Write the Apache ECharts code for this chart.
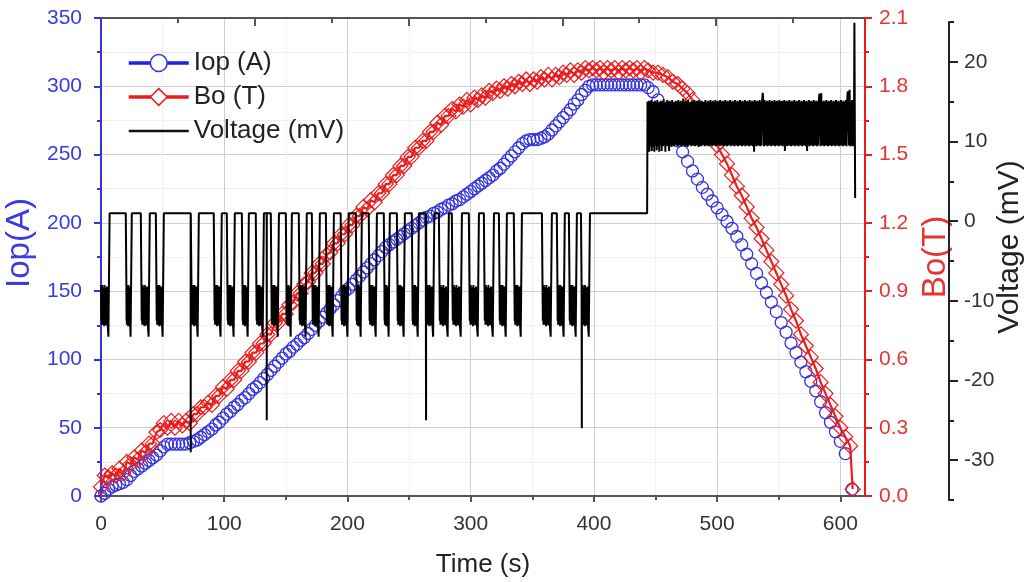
<!DOCTYPE html>
<html>
<head>
<meta charset="utf-8">
<script src="https://cdn.jsdelivr.net/npm/echarts@6/dist/echarts.min.js"></script>
<style>
  html, body { margin: 0; padding: 0; background: #fff; }
  #chart { width: 1030px; height: 582px; }
</style>
</head>
<body>
<div id="chart"></div>
<script>
// ---------------- DATA ----------------
// Iop (A) during ramp-up, sampled every 3 s from t = 0 s
const iopRiseStart = 0, iopRiseStep = 3;
const iopRise = [
  0,2,5,7,8,9,10,12,15,18,20,22,24,26,28,30,33,36,38,
  38,38,38,38,38,39,
  40,41,43,45,47,49,52,54,57,60,62,65,67,70,72,75,78,80,83,86,89,92,95,98,101,104,106,109,111,114,116,119,122,125,128,131,134,137,140,143,146,150,
  152,155,158,161,164,167,170,173,176,179,182,184,186,188,190,192,194,196,198,200,
  202,204,205,207,208,210,211,213,214,216,217,219,221,223,225,227,229,231,233,235,238,240,243,246,249,252,255,258,260,
  261,261,261,262,263,265,268,271,274,277,280,283,287,290,294,297,300,
  301,301,301,301,301,301,301,301,301,301,301,301,301,301,301,299
];
// Iop (A) during ramp-down: [time s, current A]
const iopFall = [
  [448,296],[452,290],[456,283],[460,275],[464,268],[468,260],[472,252],[476,245],[480,238],[484,232],
  [488,226],[492,221],[496,216],[500,211],[504,206],[508,201],[512,196],[516,190],[520,184],[524,177],
  [528,170],[532,163],[536,156],[540,149],[544,142],[548,135],[552,127],[556,120],[560,112],[564,105],
  [568,98],[572,91],[576,84],[580,77],[584,69],[588,61],[592,54],[596,47],[600,40],[604,31],[609.5,5]
];
// Bo (T) during ramp-up, sampled every 3 s from t = 0 s
const boRiseStart = 0, boRiseStep = 3;
const boRise = [
  0.04,0.09,0.08,0.10,0.09,0.12,0.10,0.15,0.14,0.17,0.16,0.20,0.19,0.23,0.23,0.28,0.29,0.32,0.30,
  0.33,0.30,0.33,0.31,0.33,0.32,
  0.36,0.36,0.39,0.39,0.41,0.40,0.44,0.44,0.48,0.47,0.51,0.51,0.55,0.55,0.59,0.59,0.63,0.63,0.67,0.67,0.71,0.71,0.76,0.76,0.80,0.80,0.84,0.85,0.89,0.89,0.93,0.94,0.98,0.98,1.02,1.02,1.06,1.07,1.11,1.11,1.15,1.15,
  1.19,1.19,1.23,1.23,1.27,1.26,1.30,1.29,1.33,1.33,1.37,1.37,1.41,1.41,1.45,1.45,1.49,1.49,1.53,1.53,
  1.56,1.56,1.60,1.60,1.64,1.63,1.67,1.67,1.70,1.69,1.72,1.71,1.74,1.72,1.75,1.74,1.76,1.75,1.78,1.77,1.79,1.78,1.80,1.79,1.81,1.80,1.82,1.81,1.83,
  1.81,1.83,1.82,1.84,1.83,1.85,1.83,1.85,1.84,1.86,1.85,1.87,1.85,1.87,1.86,1.88,1.87,
  1.88,1.87,1.88,1.86,1.88,1.87,1.88,1.86,1.88,1.87,1.88,1.87,1.88,1.86,1.88,1.87
];
// Bo (T) during ramp-down: [time s, field T]
const boFall = [
  [448,1.86],[452,1.86],[456,1.85],[460,1.84],[464,1.82],[468,1.81],[472,1.79],[476,1.77],[480,1.74],[484,1.70],
  [488,1.66],[492,1.62],[496,1.58],[500,1.54],[504,1.50],[508,1.46],[512,1.41],[516,1.36],[520,1.32],[524,1.27],
  [528,1.22],[532,1.18],[536,1.13],[540,1.08],[544,1.03],[548,0.98],[552,0.93],[556,0.88],[560,0.82],[564,0.77],
  [568,0.71],[572,0.66],[576,0.61],[580,0.56],[584,0.50],[588,0.45],[592,0.40],[596,0.35],[600,0.30],[604,0.26],
  [608,0.22],[610,0.03]
];
// Voltage (mV): low (negative) phases of the square wave, [start s, end s]
const voltLowPhases = [
  [0,6],[20.6,24],[32.8,38.6],[45,50],[73.4,78.4],[92,97],[102.6,107.6],[114.8,119],[126.1,131.2],[138.3,143.4],
  [150.5,153.9],[161,166],[171.6,176.6],[183,188],[195,200],[207.3,210.7],[217.8,222.9],[230,233.4],[240.6,245.6],[252.7,257],
  [264,269.5],[274.7,281.3],[285.2,291.9],[299,305.7],[311.2,317.9],[323.4,328.4],[335.5,340.6],[358.3,364.9],[370.4,375.4],[380.2,385.2],
  [390,395.8]
];
const voltHighLevel = 1.0;   // mV, plateau of the square wave
// mV values inside each low phase (noisy band)
const voltLowNoise = [-8,-12.5,-8.5,-13,-8,-12.8,-9,-13,-8.3,-12.5,-8.6,-13.2,-8,-12.7,-9,-13,-8.4,-12.9,-8.8,-13.1,-8.2,-12.6,-9,-13.3,-13.8,-14.5];
const voltSpikes = [[72.8,-29],[134.5,-25],[263.8,-25],[390.2,-26]]; // [s, mV]
const voltStepTime = 443.2;  // s, step into the noisy band
const voltBandStart = 443.5, voltBandStep = 0.5;
const voltBand = [
  15,9.2,15.1,8.7,15,9.4,15.2,8.8,14.9,9.3,15,8.7,15.1,9.5,15,8.9,15.2,9.4,14.9,8.7,
  15,9.5,15.1,8.8,15,9.4,15.3,9.5,14.9,8.7,15,9.5,15.2,9.4,15,8.8,15.1,9.5,15,9.3,
  15.2,9.5,15,9.4,14.9,9.6,15.1,9.5,15,9.4,15.2,9.5,15,9.6,15.1,9.4,15,9.5,15.4,9.5,
  15,9.4,15.1,9.5,15,9.3,15.2,9.5,14.9,9.6,15,9.4,15.1,9.5,15,9.5,15.2,9.4,15,9.5,
  15.1,9.5,15,9.3,15.2,9.5,15,9.4,15.1,9.5,15,9.6,15,9.4,15.2,9.5,14.9,9.5,15.1,9.4,
  15,9.5,15.2,9.5,15,9.4,15.1,9.5,15,9.5,15.2,9.4,15,9.5,15.1,9.6,15,9.4,15.2,9.5,
  15,9.5,15.1,9.4,15,9.5,15.2,9.5,15,9.4,15.1,9.5,15,9.6,15.2,9.4,15,9.5,15.1,9.5,
  15,9.4,15.2,9.5,15,9.5,15.1,9.4,15,9.5,15.2,9.6,15,9.4,15.1,9.5,15,9.5,15.2,9.4,
  15,9.5,15.1,9.5,15,9.4,15.2,9.5,15,9.5,15.1,9.4,15,8.7,15.2,9.5,15,9.4,15.1,9.5,
  15,9.5,15.2,9.4,15,9.5,15.1,16.1,15,9.4,15.2,9.5,15,9.5,15.1,9.4,15,9.5,15.2,9.5,
  15,9.4,15.1,9.5,15,9.5,15.2,9.4,15,9.5,15.1,9.5,15,9.4,15.2,9.5,15,9.5,15.1,9.4,
  15,9.5,15.2,8.8,15,9.5,15.1,9.4,15,9.5,15.2,9.5,15,9.4,15.1,9.5,15,9.5,15.2,9.4,
  15,9.5,15.1,9.5,15,9.4,15.2,9.5,15,9.5,15.1,9.4,15,9.5,15.2,9.5,15,9.4,15.1,8.8,
  15,9.5,15.2,9.4,15,9.5,15.1,9.5,15,9.4,15.2,9.5,15,9.5,15.1,9.4,15,9.5,15.2,16,
  16,9.4,16.1,9.5,15,9.5,15.1,9.4,15,9.5,15.2,9.5,15,9.4,15.1,9.5,15,9.5,15.2,9.4,
  15,9.5,15.1,9.5,15,9.4,15.2,9.5,15,9.5,15.1,9.4,15,9.5,15.2,9.5,15,9.4,15.1,9.5,
  15,9.5,15.2,9.4,15,16.3,15.1,9.5,16.5,9.4,15,9.5,15.2,9.4,15,9.5
];
const voltTail = [[611.4,24.9],[612,2.9]];

// axis ticks
const timeMajorTicks = [0,100,200,300,400,500,600];
const timeMinorTicks = [50,150,250,350,450,550];
const voltMajorTicks = [-30,-20,-10,0,10,20];
const voltMinorTicks = [-35,-25,-15,-5,5,15,25];

// ---------------- BUILD ----------------
const iopData = iopRise.map((v, i) => [iopRiseStart + i * iopRiseStep, v]).concat(iopFall);
const boData = boRise.map((v, i) => [boRiseStart + i * boRiseStep, v]).concat(boFall);

function buildVoltage() {
  let pts = [];
  voltLowPhases.forEach(([a, b], i) => {
    if (i > 0) pts.push([a - 0.5, voltHighLevel]);
    const n = voltLowNoise.length;
    voltLowNoise.forEach((v, k) => pts.push([a + (b - a) * k / (n - 1), v]));
    pts.push([b + 1.0, voltHighLevel]);
  });
  pts.push([voltStepTime, voltHighLevel]);
  voltBand.forEach((v, k) => pts.push([voltBandStart + k * voltBandStep, v]));
  voltTail.forEach(p => pts.push(p));
  voltSpikes.forEach(([t, v]) => {
    const idx = pts.findIndex(p => p[0] > t);
    const base = pts[idx - 1][1];
    pts.splice(idx, 0, [t - 0.05, base], [t, v], [t + 0.05, base]);
  });
  return pts;
}
const voltData = buildVoltage();

// ---------------- CHART ----------------
const FONT = "'Liberation Sans', Arial, Helvetica, sans-serif";
const BLUE = '#3434dc', BLUE_TXT = '#3b3be0', RED = '#ec1c1c', RED_TXT = '#e43434', AX = '#555';

const chart = echarts.init(document.getElementById('chart'), null, { renderer: 'canvas' });
chart.setOption({
  animation: false,
  backgroundColor: '#fff',
  textStyle: { fontFamily: FONT },
  grid: [
    { left: 101, right: 165, top: 18, bottom: 86, containLabel: false, outerBoundsMode: 'none' },
    { left: 101, right: 165, top: 22, bottom: 82, containLabel: false, outerBoundsMode: 'none' }
  ],
  legend: {
    orient: 'vertical', left: 122, top: 45, itemWidth: 60, itemHeight: 21, itemGap: 8,
    textStyle: { fontSize: 26, color: '#222', fontFamily: FONT },
    data: [
      { name: 'Iop (A)', itemStyle: { color: '#fff', borderColor: BLUE, borderWidth: 1.5 }, lineStyle: { color: '#1e1ee8', width: 3.5, opacity: 1 } },
      { name: 'Bo (T)', itemStyle: { color: '#fff', borderColor: RED, borderWidth: 1.5 }, lineStyle: { color: RED, width: 3.5, opacity: 1 } },
      { name: 'Voltage (mV)', itemStyle: { opacity: 0 }, lineStyle: { color: '#111', width: 2.5 } }
    ]
  },
  xAxis: [
    { gridIndex: 0, type: 'value', position: 'bottom', min: 0, max: 620, interval: 100,
      axisLine: { show: true, onZero: false, lineStyle: { color: AX, width: 2 } },
      axisTick: { show: true, customValues: timeMajorTicks, length: 6, lineStyle: { color: AX, width: 2 } },
      axisLabel: { customValues: timeMajorTicks, color: '#333', fontSize: 21, margin: 18 },
      splitLine: { show: true, lineStyle: { color: '#cfcfcf', width: 1 } },
      name: 'Time (s)', nameLocation: 'middle', nameGap: 56,
      nameTextStyle: { fontSize: 26, color: '#222' } },
    { gridIndex: 0, type: 'value', position: 'bottom', min: 0, max: 620, interval: 50,
      axisLine: { show: false, onZero: false },
      axisTick: { show: true, customValues: timeMinorTicks, length: 4, lineStyle: { color: AX, width: 2 } },
      axisLabel: { show: false },
      splitLine: { show: true, lineStyle: { color: '#e2e2e2', width: 1, type: 'dotted' } } },
    { gridIndex: 0, type: 'value', position: 'top', min: 0, max: 248.4,
      axisLine: { show: true, onZero: false, lineStyle: { color: AX, width: 2 } },
      axisTick: { show: true, inside: true, customValues: [50,100,150,200], length: 8, lineStyle: { color: AX, width: 2 } },
      axisLabel: { show: false }, splitLine: { show: false } },
    { gridIndex: 0, type: 'value', position: 'top', min: 0, max: 248.4,
      axisLine: { show: false, onZero: false },
      axisTick: { show: true, inside: true, customValues: [25,75,125,175,225], length: 5, lineStyle: { color: AX, width: 2 } },
      axisLabel: { show: false }, splitLine: { show: false } },
    { gridIndex: 1, type: 'value', min: 0, max: 620, show: false, axisLine: { onZero: false } }
  ],
  yAxis: [
    { gridIndex: 0, type: 'value', position: 'left', min: 0, max: 350, interval: 50,
      axisLine: { show: true, onZero: false, lineStyle: { color: BLUE, width: 2 } },
      axisTick: { show: true, length: 7, lineStyle: { color: BLUE, width: 2 } },
      minorTick: { show: true, splitNumber: 2, length: 4, lineStyle: { color: BLUE, width: 2 } },
      axisLabel: { color: BLUE_TXT, fontSize: 21, margin: 19 },
      splitLine: { show: true, lineStyle: { color: '#cfcfcf', width: 1 } },
      minorSplitLine: { show: true, lineStyle: { color: '#e4e4e4', width: 1, type: 'dotted' } },
      name: 'Iop(A)', nameLocation: 'middle', nameGap: 64,
      nameTextStyle: { color: BLUE_TXT, fontSize: 33, padding: [0, 0, 0, 28] } },
    { gridIndex: 0, type: 'value', position: 'right', min: 0, max: 2.1, interval: 0.3,
      axisLine: { show: true, onZero: false, lineStyle: { color: RED, width: 2 } },
      axisTick: { show: true, length: 7, lineStyle: { color: RED, width: 2 } },
      minorTick: { show: true, splitNumber: 2, length: 4, lineStyle: { color: RED, width: 2 } },
      axisLabel: { color: RED_TXT, fontSize: 21, margin: 14, formatter: v => v.toFixed(1) },
      splitLine: { show: false },
      name: 'Bo(T)', nameLocation: 'middle', nameGap: 48,
      nameTextStyle: { color: RED_TXT, fontSize: 33 } },
    { gridIndex: 1, type: 'value', position: 'right', offset: 84, min: -35, max: 25, interval: 5,
      axisLine: { show: true, onZero: false, lineStyle: { color: '#222', width: 2 } },
      axisTick: { show: true, customValues: voltMajorTicks, length: 9, lineStyle: { color: '#222', width: 2 } },
      axisLabel: { customValues: voltMajorTicks, color: '#333', fontSize: 21, margin: 15 },
      splitLine: { show: false },
      name: 'Voltage (mV)', nameLocation: 'middle', nameGap: 46, nameMoveOverlap: false,
      nameTextStyle: { color: '#222', fontSize: 30, padding: [0, 0, 0, 28] } },
    { gridIndex: 1, type: 'value', position: 'right', offset: 84, min: -35, max: 25, interval: 5,
      axisLine: { show: false, onZero: false },
      axisTick: { show: true, customValues: voltMinorTicks, length: 5, lineStyle: { color: '#222', width: 2 } },
      axisLabel: { show: false }, splitLine: { show: false } }
  ],
  series: [
    { name: 'Iop (A)', type: 'line', xAxisIndex: 0, yAxisIndex: 0, data: iopData,
      symbol: 'circle', symbolSize: 12, showAllSymbol: true,
      lineStyle: { opacity: 0 },
      itemStyle: { color: 'rgba(255,255,255,0)', borderColor: BLUE, borderWidth: 1.3 },
      emphasis: { disabled: true }, z: 2 },
    { name: 'Bo (T)', type: 'line', xAxisIndex: 0, yAxisIndex: 1, data: boData,
      symbol: 'diamond', symbolSize: 15, showAllSymbol: true,
      lineStyle: { color: RED, width: 2.2 },
      itemStyle: { color: 'rgba(255,255,255,0)', borderColor: RED, borderWidth: 1.2 },
      emphasis: { disabled: true }, z: 3 },
    { name: 'Voltage (mV)', type: 'line', xAxisIndex: 4, yAxisIndex: 2, data: voltData,
      symbol: 'none', showSymbol: false,
      lineStyle: { color: '#000', width: 2 },
      itemStyle: { color: '#000' },
      emphasis: { disabled: true }, z: 4 }
  ]
});
</script>
</body>
</html>
